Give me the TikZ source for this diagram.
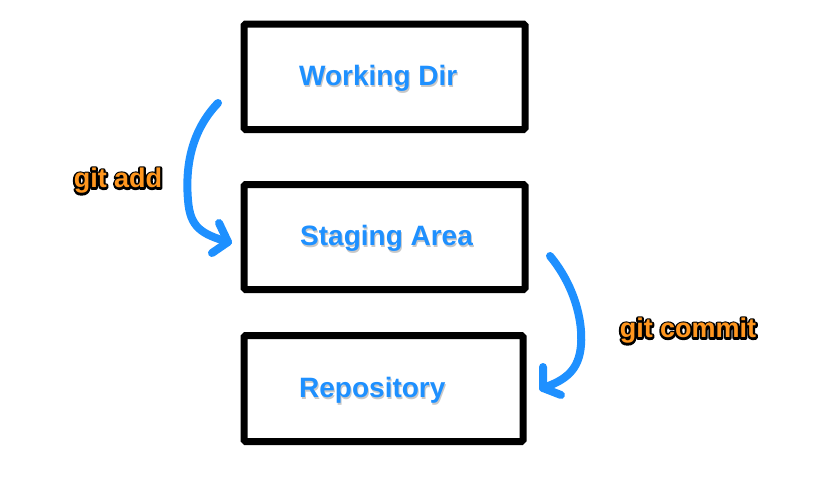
\documentclass[tikz,border=0pt]{standalone}
\usepackage{fontspec}
\setmainfont{Liberation Sans}
\definecolor{gblue}{RGB}{30,144,255}
\definecolor{gorange}{RGB}{255,150,30}
\definecolor{gshadow}{RGB}{200,200,200}
\newcommand\myoutl[3]{\leavevmode
  \rlap{\color{#1}\special{pdf:code q 2 Tr 4 w 1 j 0 0 0 RG}#3\special{pdf:code Q}}%
  {\color{#2}#3}}
\newcommand\myshadow[1]{\leavevmode
  \rlap{\color{gshadow}\kern1pt\raisebox{-1.8pt}{#1}}%
  {\color{gblue}#1}}
\begin{document}
\begin{tikzpicture}[x=1pt,y=-1pt,
  area/.style={draw=black,line width=7pt,rounded corners=1.5pt,fill=white},
  areatext/.style={anchor=west,font=\fontsize{28}{30}\selectfont\bfseries,inner sep=0pt},
  cmdtext/.style={font=\fontsize{27}{30}\selectfont\bfseries,inner sep=0pt},
  flow/.style={draw=gblue,line width=8pt,line cap=round,line join=round}]
\useasboundingbox (0,0) rectangle (822,480);
\draw[area] (244,24) rectangle (525,129.5);
\draw[area] (244,184.5) rectangle (525,289.5);
\draw[area] (244,335.5) rectangle (523,441.5);
\node[areatext] (wd) at (299,79) {\myshadow{Working Dir}};
\node[areatext] (sa) at (300,239) {\myshadow{Staging Area}};
\node[areatext] (rp) at (299,391) {\myshadow{Repository}};
\node[cmdtext] (add) at (118,181) {\myoutl{black}{gorange}{git add}};
\node[cmdtext] (commit) at (688,331) {\myoutl{black}{gorange}{git commit}};
\coordinate (a1) at (218,103);
\coordinate (a2) at (188,200);
\coordinate (a3) at (228,242);
\coordinate (a4) at (219,223);
\coordinate (a5) at (212,253);
\draw[flow] (a1) .. controls (192,130) and (185,165) .. (a2)
  .. controls (190,228) and (202,234) .. (a3);
\draw[flow] (a4) -- (a3) -- (a5);
\coordinate (b1) at (550,256);
\coordinate (b2) at (581,345);
\coordinate (b3) at (543,388);
\coordinate (b4) at (543,367);
\coordinate (b5) at (561,395);
\draw[flow] (b1) .. controls (574,285) and (583,320) .. (b2)
  .. controls (579,370) and (566,380) .. (b3);
\draw[flow] (b4) -- (b3) -- (b5);
\end{tikzpicture}
\end{document}
